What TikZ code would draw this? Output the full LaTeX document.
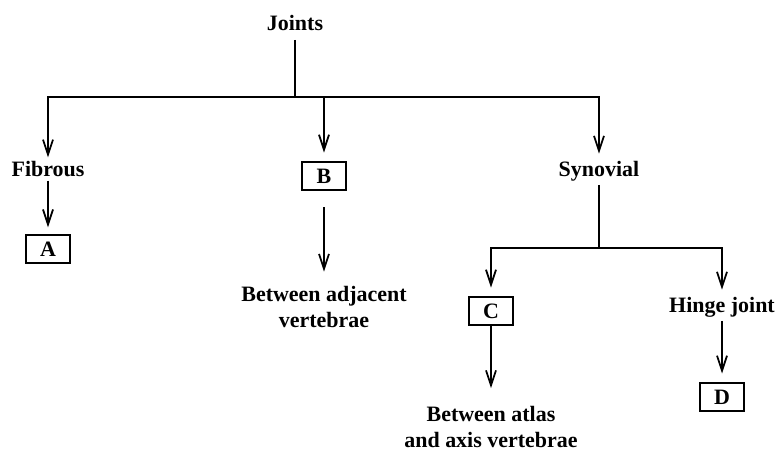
\documentclass[tikz,border=0pt]{standalone}
\usepackage{fontspec}
\setmainfont{Liberation Serif}
\usetikzlibrary{arrows.meta}
\tikzset{
    lbl/.style={font=\fontsize{12.5}{15}\selectfont\bfseries,inner sep=2pt,align=center},
    box/.style={lbl,draw,line width=1.1pt,minimum width=0.88cm,minimum height=0.55cm,inner sep=0pt},
    link/.style={draw,line width=1pt},
    arr/.style={link,-{Straight Barb[length=0.3cm,width=0.2cm]}},
}
\begin{document}
\begin{tikzpicture}[x=0.02cm,y=-0.02cm]
\useasboundingbox (0,0) rectangle (775,451);
\node[lbl] (joints) at (295,23) {Joints};
\node[lbl] (fibrous) at (48,169) {Fibrous};
\node[box] (a) at (48,249) {A};
\node[box] (b) at (324,176) {B};
\node[lbl] (adj) at (324,307) {Between adjacent\\vertebrae};
\node[lbl] (synovial) at (599,171) {Synovial};
\node[box] (c) at (491,311) {C};
\node[lbl] (atlas) at (491,427) {Between atlas\\and axis vertebrae};
\node[lbl] (hinge) at (722,307) {Hinge joint};
\node[box] (d) at (722,397) {D};
\coordinate (top) at (295,97);
\coordinate (sub) at (599,248);
% first level
\draw[link,shorten <=3pt] (joints) -- (top);
\draw[arr] (top) -| (fibrous);
\draw[arr,shorten >=5pt] (top -| b) -- (b);
\draw[arr,shorten >=2pt] (top) -| (synovial);
\draw[arr,shorten >=4pt] (fibrous) -- (a);
\draw[arr,shorten <=9.5pt,shorten >=6pt] (b) -- (adj);
% synovial branch
\draw[link] (synovial) -- (sub);
\draw[arr,shorten >=5pt] (sub) -| (c);
\draw[arr,shorten >=2pt] (sub) -| (hinge);
\draw[arr,shorten >=8pt] (c) -- (atlas);
\draw[arr,shorten >=5pt] (hinge) -- (d);
\end{tikzpicture}
\end{document}
